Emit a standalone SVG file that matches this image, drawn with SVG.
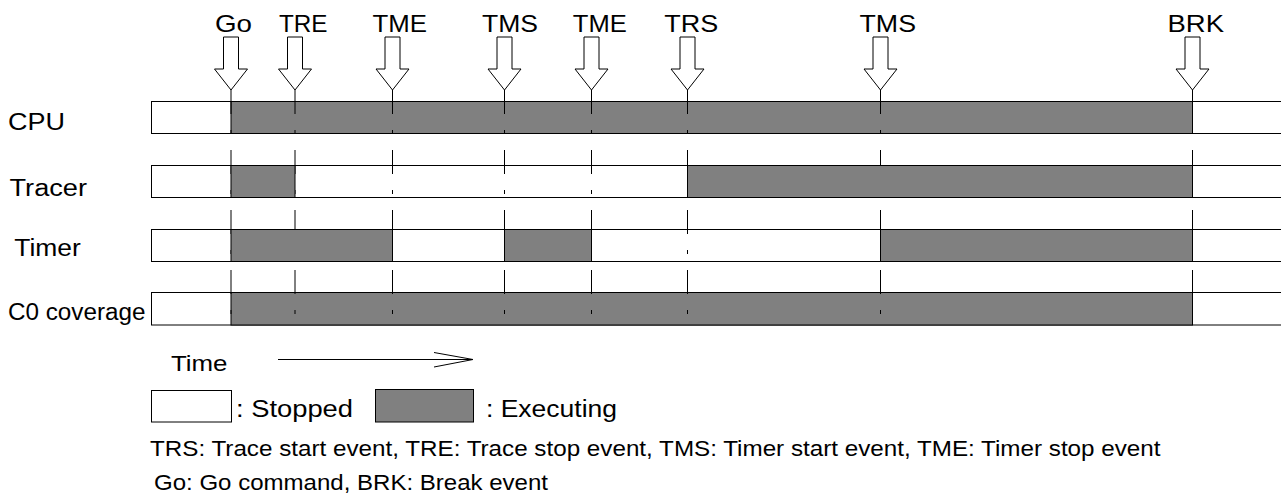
<svg xmlns="http://www.w3.org/2000/svg" xmlns:xlink="http://www.w3.org/1999/xlink" width="1281" height="494" viewBox="0 0 1281 494">
<style>
  text { font-family: "Liberation Sans", Arial, sans-serif; fill: #000; }
  .ev { font-size: 24px; }
  .row { font-size: 23.5px; }
  .leg { font-size: 22px; }
  .legb { font-size: 23px; }
  .off { fill: #ffffff; stroke: #000; stroke-width: 1; }
  .on { fill: #808080; stroke: #000; stroke-width: 1; }
  .tick { stroke: #000; stroke-width: 1; fill: none; }
  .arrow { fill: #ffffff; stroke: #000; stroke-width: 1; }
</style>
<defs>
  <path id="evArrow" class="arrow" d="M -7.5 37 L 7.5 37 L 7.5 69 L 16.5 69 L 0 90 L -16.5 69 L -7.5 69 Z"/>
</defs>

<!-- Event markers -->
<g id="event-go"><use xlink:href="#evArrow" href="#evArrow" transform="translate(231,0)"/><text class="ev" x="215" y="32" textLength="37" lengthAdjust="spacingAndGlyphs">Go</text></g>
<g id="event-tre"><use xlink:href="#evArrow" href="#evArrow" transform="translate(295,0)"/><text class="ev" x="279" y="32" textLength="48.5" lengthAdjust="spacingAndGlyphs">TRE</text></g>
<g id="event-tme1"><use xlink:href="#evArrow" href="#evArrow" transform="translate(392.5,0)"/><text class="ev" x="372.5" y="32" textLength="54.5" lengthAdjust="spacingAndGlyphs">TME</text></g>
<g id="event-tms1"><use xlink:href="#evArrow" href="#evArrow" transform="translate(504.5,0)"/><text class="ev" x="482" y="32" textLength="56" lengthAdjust="spacingAndGlyphs">TMS</text></g>
<g id="event-tme2"><use xlink:href="#evArrow" href="#evArrow" transform="translate(591.5,0)"/><text class="ev" x="572.8" y="32" textLength="54" lengthAdjust="spacingAndGlyphs">TME</text></g>
<g id="event-trs"><use xlink:href="#evArrow" href="#evArrow" transform="translate(687.5,0)"/><text class="ev" x="664.2" y="32" textLength="54" lengthAdjust="spacingAndGlyphs">TRS</text></g>
<g id="event-tms2"><use xlink:href="#evArrow" href="#evArrow" transform="translate(880.5,0)"/><text class="ev" x="859.5" y="32" textLength="56.5" lengthAdjust="spacingAndGlyphs">TMS</text></g>
<g id="event-brk"><use xlink:href="#evArrow" href="#evArrow" transform="translate(1192.5,0)"/><text class="ev" x="1167.5" y="32" textLength="56.5" lengthAdjust="spacingAndGlyphs">BRK</text></g>

<!-- Rows -->
<g id="row-cpu">
  <text class="row" x="8" y="129.5" textLength="57" lengthAdjust="spacingAndGlyphs">CPU</text>
  <rect class="off" x="151.5" y="101.5" width="1140" height="32"/>
  <rect class="on" x="231" y="101.5" width="961.5" height="32"/>
</g>
<g id="row-cov">
  <text class="row" x="8" y="320" textLength="137.5" lengthAdjust="spacingAndGlyphs">C0 coverage</text>
  <rect class="off" x="151.5" y="292.5" width="1140" height="32.5"/>
  <rect class="on" x="231" y="292.5" width="961.5" height="32.5"/>
</g>
<g id="row-tracer">
  <text class="row" x="9.5" y="196" textLength="77.5" lengthAdjust="spacingAndGlyphs">Tracer</text>
  <rect class="off" x="151.5" y="165.5" width="1140" height="32"/>
</g>
<g id="row-timer">
  <text class="row" x="14.3" y="256" textLength="66.5" lengthAdjust="spacingAndGlyphs">Timer</text>
  <rect class="off" x="151.5" y="229.5" width="1140" height="32"/>
</g>

<!-- Event lines -->
<g id="connectors" class="tick">
  <path d="M231 90V114M231 130V134M231 150V174M231 190V194M231 210V234M231 250V254M231 270V294M231 310V314"/>
  <path d="M295 90V114M295 130V134M295 150V174M295 190V194M295 210V234M295 250V254M295 270V294M295 310V314"/>
  <path d="M392.5 90V114M392.5 130V134M392.5 150V174M392.5 190V194M392.5 210V234M392.5 250V254M392.5 270V294M392.5 310V314"/>
  <path d="M504.5 90V114M504.5 130V134M504.5 150V174M504.5 190V194M504.5 210V234M504.5 250V254M504.5 270V294M504.5 310V314"/>
  <path d="M591.5 90V114M591.5 130V134M591.5 150V174M591.5 190V194M591.5 210V234M591.5 250V254M591.5 270V294M591.5 310V314"/>
  <path d="M687.5 90V114M687.5 130V134M687.5 150V174M687.5 190V194M687.5 210V234M687.5 250V254M687.5 270V294M687.5 310V314"/>
  <path d="M880.5 90V114M880.5 130V134M880.5 150V174M880.5 190V194M880.5 210V234M880.5 250V254M880.5 270V294M880.5 310V314"/>
  <path d="M1192.5 90V114M1192.5 130V134M1192.5 150V174M1192.5 190V194M1192.5 210V234M1192.5 250V254M1192.5 270V294M1192.5 310V314"/>
</g>

<!-- Executing spans of Tracer and Timer (cover the event lines) -->
<g id="tracer-spans">
  <rect class="on" x="231" y="165.5" width="64" height="32"/>
  <rect class="on" x="687.5" y="165.5" width="505" height="32"/>
</g>
<g id="timer-spans">
  <rect class="on" x="231" y="229.5" width="161.5" height="32"/>
  <rect class="on" x="504.5" y="229.5" width="87" height="32"/>
  <rect class="on" x="880.5" y="229.5" width="312" height="32"/>
</g>

<!-- Legend -->
<g id="legend-time">
  <text class="leg" x="171" y="370.7" textLength="56.5" lengthAdjust="spacingAndGlyphs">Time</text>
  <path class="tick" d="M278 359.5H473M434 352.5L473 359.5L434 367"/>
</g>
<g id="legend-stopped">
  <rect class="off" x="151.5" y="390.5" width="80" height="31.5"/>
  <text class="legb" x="236" y="417" textLength="117" lengthAdjust="spacingAndGlyphs">: Stopped</text>
</g>
<g id="legend-executing">
  <rect class="on" x="375.5" y="389.5" width="98" height="32.5"/>
  <text class="legb" x="486" y="417" textLength="131" lengthAdjust="spacingAndGlyphs">: Executing</text>
</g>
<g id="legend-notes">
  <text class="leg" x="150" y="456" textLength="1010.5" lengthAdjust="spacingAndGlyphs">TRS: Trace start event, TRE: Trace stop event, TMS: Timer start event, TME: Timer stop event</text>
  <text class="leg" x="154" y="489.5" textLength="394" lengthAdjust="spacingAndGlyphs">Go: Go command, BRK: Break event</text>
</g>
</svg>
